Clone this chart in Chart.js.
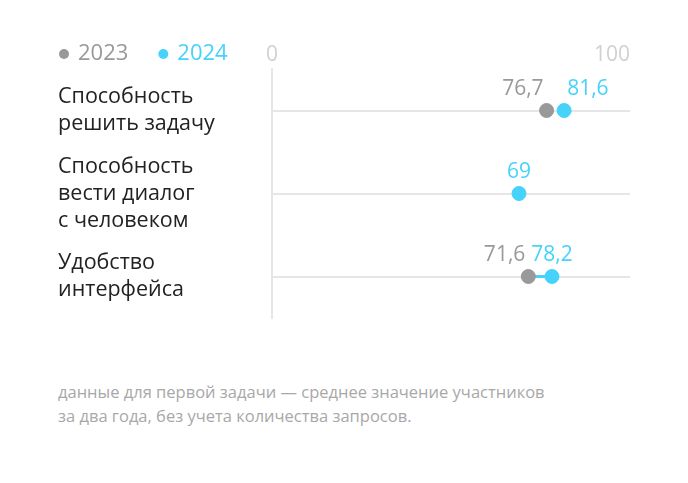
<!DOCTYPE html>
<html lang="ru">
<head>
<meta charset="utf-8">
<script src="https://cdn.jsdelivr.net/npm/chart.js@4.4.1/dist/chart.umd.min.js"></script>
<style>
  html, body { margin: 0; padding: 0; background: #fff; }
  #wrap { position: relative; width: 688px; height: 483px; }
  #note {
    position: absolute; left: 58px; top: 380px; margin: 0;
    font: 16.5px "Open Sans", sans-serif; line-height: 24px; color: #a8a8a8;
  }
</style>
</head>
<body>
<div id="wrap">
  <canvas id="chart" width="688" height="340"></canvas>
  <p id="note">данные для первой задачи — среднее значение участников<br>за два года, без учета количества запросов.</p>
</div>
<script>
const categories = [
  ['Способность', 'решить задачу'],
  ['Способность', 'вести диалог', 'с человеком'],
  ['Удобство', 'интерфейса']
];
const years = ['2023', '2024'];
const values2023 = [76.7, null, 71.6];
const values2024 = [81.6, 69, 78.2];
const xTicks = [0, 100];

const grey = '#999999';
const cyan = '#45d3fb';
const font = '"Open Sans", sans-serif';

const toPoints = arr => arr.map((v, i) => v === null ? null : { x: v, y: i }).filter(p => p);

// label placement next to each dot: 'left' | 'right' | 'center'
const labelAlign = {
  2023: ['left', 'center', 'left'],
  2024: ['right', 'center', 'center']
};

const fmt = v => String(v).replace('.', ',');

const extrasPlugin = {
  id: 'extras',
  afterDatasetsDraw(chart) {
    const ctx = chart.ctx;
    const xs = chart.scales.x;
    const ys = chart.scales.y;
    ctx.save();
    ctx.textBaseline = 'middle';

    // value labels above the dots
    ctx.font = '21px ' + font;
    [[values2023, grey, labelAlign[2023]], [values2024, cyan, labelAlign[2024]]].forEach(([vals, color, al]) => {
      vals.forEach((v, i) => {
        if (v === null) return;
        const px = xs.getPixelForValue(v);
        const py = ys.getPixelForValue(i) - 21;
        ctx.fillStyle = color;
        if (al[i] === 'left') { ctx.textAlign = 'right'; ctx.fillText(fmt(v), px - 3, py); }
        else if (al[i] === 'right') { ctx.textAlign = 'left'; ctx.fillText(fmt(v), px + 3, py); }
        else { ctx.textAlign = 'center'; ctx.fillText(fmt(v), px, py); }
      });
    });

    // x axis tick labels (0 centred, 100 flush right)
    ctx.fillStyle = '#d0d0d0';
    xTicks.forEach((t, i) => {
      ctx.textAlign = i === 0 ? 'center' : 'right';
      ctx.fillText(String(t), xs.getPixelForValue(t), 55);
    });

    // legend
    ctx.font = '22px ' + font;
    ctx.textAlign = 'left';
    let lx = 64;
    [grey, cyan].forEach((color, i) => {
      ctx.fillStyle = color;
      ctx.beginPath();
      ctx.arc(lx, 54, 5, 0, Math.PI * 2);
      ctx.fill();
      ctx.fillText(years[i], lx + 14, 54);
      lx += 14 + ctx.measureText(years[i]).width + 35;
    });
    ctx.restore();
  }
};

new Chart(document.getElementById('chart'), {
  type: 'scatter',
  data: {
    datasets: [
      {
        label: years[0],
        data: toPoints(values2023),
        backgroundColor: grey, borderColor: grey,
        pointRadius: 7, pointHoverRadius: 7, order: 1
      },
      {
        label: years[1],
        data: toPoints(values2024),
        backgroundColor: cyan, borderColor: cyan,
        pointRadius: 7, pointHoverRadius: 7, order: 0
      },
      {
        label: 'link',
        // connector on the third row
        data: [{ x: values2023[2], y: 2 }, { x: values2024[2], y: 2 }],
        showLine: true, borderColor: cyan, borderWidth: 3,
        pointRadius: 0, order: 2
      }
    ]
  },
  options: {
    responsive: false,
    animation: false,
    layout: { padding: { left: 58, right: 58, top: 69, bottom: 22 } },
    plugins: {
      tooltip: { enabled: false },
      legend: { display: false }
    },
    scales: {
      x: {
        type: 'linear', min: 0, max: 100,
        display: false
      },
      y: {
        type: 'linear', min: -0.5, max: 2.5, reverse: true,
        afterBuildTicks: s => { s.ticks = categories.map((c, i) => ({ value: i })); },
        afterFit: s => {
          s.width = 214;
          // labels sit well inside the axis, no overflow padding needed
          s.paddingTop = 0;
          s.paddingBottom = 0;
        },
        border: { display: true, color: '#e6e6e6', width: 2 },
        grid: { color: '#e6e6e6', lineWidth: 2, drawTicks: false },
        ticks: {
          crossAlign: 'far',
          padding: 0,
          color: '#222',
          font: { family: font, size: 21.5, lineHeight: '27px' },
          callback: v => categories[v]
        }
      }
    }
  },
  plugins: [extrasPlugin]
});
</script>
</body>
</html>
